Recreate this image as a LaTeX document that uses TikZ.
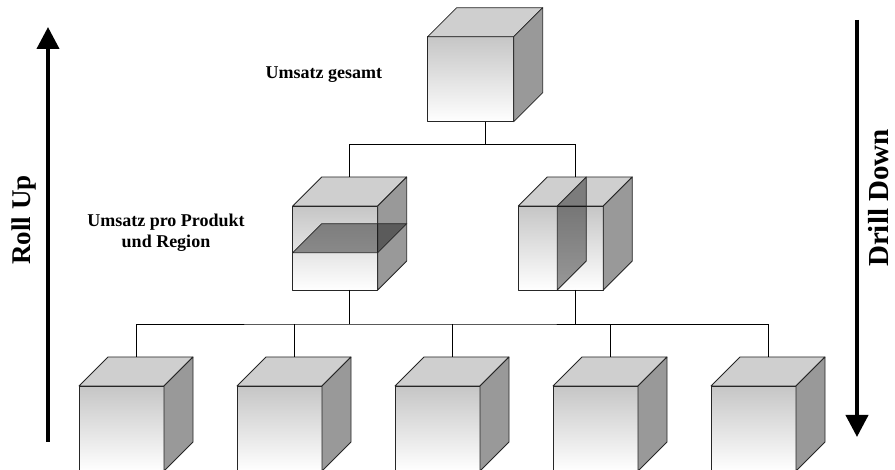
\documentclass[tikz,border=0pt]{standalone}
\usepackage{fontspec}
\setmainfont{Liberation Serif}
\usetikzlibrary{calc,arrows.meta}

\tikzset{
  face/.style={draw=black!85, line width=0.8pt, line join=round},
  frontface/.style={face, rectangle, anchor=north west, inner sep=0pt, outer sep=0pt,
    minimum width=85pt, minimum height=85pt, top color=gray!45, bottom color=white},
  topface/.style={face, fill=gray!38},
  sideface/.style={face, fill=gray!80},
  slice/.style={face, fill=black, fill opacity=0.4},
  wire/.style={draw=black, line width=0.8pt},
  bigarrow/.style={line width=4pt, -{Triangle[width=22pt,length=22pt]}},
  lbl/.style={font=\bfseries\fontsize{18}{21}\selectfont, align=center},
  sidelbl/.style={font=\bfseries\fontsize{27}{30}\selectfont, rotate=90},
}

% top and right face of a cube whose front face is the node #1
\newcommand{\cubefaces}[1]{%
  \draw[topface] (#1.north west) -- ++(29,-29) -- ($(#1.north east)+(29,-29)$) -- (#1.north east) -- cycle;
  \draw[sideface] (#1.north east) -- ++(29,-29) -- ($(#1.south east)+(29,-29)$) -- (#1.south east) -- cycle;
  \coordinate (#1-t) at ($(#1.north)+(14.5,-29)$);
  \coordinate (#1-b) at ($(#1.south)+(14.5,0)$);
}

\begin{document}
\begin{tikzpicture}[x=1pt,y=-1pt]
    \useasboundingbox (0,0) rectangle (895,470);

    % total
    \node[frontface, minimum width=86pt] (c0) at (427.7,36.7) {};
    \cubefaces{c0}

    % product x region, sliced
    \node[frontface, minimum height=84pt] (m1) at (292.7,206) {};
    \cubefaces{m1}
    \coordinate (p1) at ($(m1.north west)+(0,46.7)$);
    \draw[slice] (p1) -- ++(85,0) -- ++(29,-29) -- ++(-85,0) -- cycle;

    \node[frontface, minimum height=84pt] (m2) at (518.3,206) {};
    \cubefaces{m2}
    \coordinate (q1) at ($(m2.south west)+(39,0)$);
    \draw[slice] (q1) -- ++(29,-29) -- ++(0,-84) -- ++(-29,29) -- cycle;

    % single cells
    \foreach \i in {1,...,5}{
        \node[frontface] (b\i) at ({79+158*(\i-1)},386) {};
        \cubefaces{b\i}
    }

    % tree lines
    \coordinate (bus1) at ($(c0-b)+(0,22.5)$);
    \draw[wire] (c0-b) -- (bus1);
    \draw[wire] (m1-t) |- (bus1) -| (m2-t);
    \coordinate (bus2) at ($(m1-b)+(0,34)$);
    \draw[wire] (m1-b) -- (m1-b |- bus2);
    \draw[wire] (m2-b) -- (m2-b |- bus2);
    \draw[wire] (b1-t) |- (bus2) -| (b5-t);
    \foreach \i in {2,3,4}
        \draw[wire] (b\i-t) -- (b\i-t |- bus2);

    \node[lbl, anchor=base west] (total) at (262,78.3) {Umsatz gesamt};
    \node[lbl] (prodreg) at (166,232.5) {Umsatz pro Produkt\\und Region};

    % roll up / drill down
    \coordinate (ru-s) at (48,442);
    \coordinate (ru-e) at (48,27);
    \draw[bigarrow] (ru-s) -- (ru-e);
    \node[sidelbl] (rollup) at (24,220) {Roll Up};

    \coordinate (dd-s) at (857,20);
    \coordinate (dd-e) at (857,437);
    \draw[bigarrow] (dd-s) -- (dd-e);
    \node[sidelbl, font=\bfseries\fontsize{29}{32}\selectfont] (drilldown) at (879,198) {Drill Down};
\end{tikzpicture}
\end{document}
